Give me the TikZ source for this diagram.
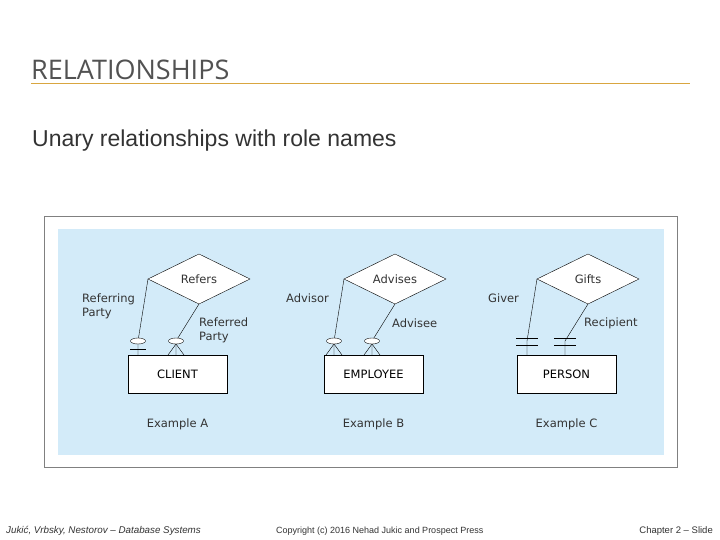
\documentclass[tikz,border=0pt]{standalone}
\usepackage{fontspec}
\usetikzlibrary{shapes.geometric}
\setmainfont{Liberation Sans}
\newfontfamily\dv{DejaVu Sans}
\newfontfamily\ttl{Open Sans}
\definecolor{pale}{HTML}{D3EBF9}
\definecolor{tan}{HTML}{D9A640}
\definecolor{ink}{HTML}{333333}
\begin{document}
\begin{tikzpicture}[x=1pt,y=-1pt,
  ent/.style={draw,fill=white,minimum width=99pt,minimum height=38pt,font=\dv\fontsize{11.5}{13}\selectfont,inner sep=0},
  lbl/.style={font=\dv\fontsize{11.5}{14}\selectfont,text=ink,align=left,anchor=west,inner sep=0},
  oval/.style={draw,fill=white,ellipse,minimum width=15pt,minimum height=6pt,inner sep=0}]
\useasboundingbox (0,0) rectangle (720,540);
\fill[white] (0,0) rectangle (720,540);
\node[anchor=west,inner sep=0,font=\ttl\fontsize{27}{28}\selectfont,text=ink!85] (title) at (31,70) {RELATIONSHIPS};
\coordinate (ul1) at (31,83); \coordinate (ul2) at (690,83);
\draw[tan,line width=0.8pt] (ul1) -- (ul2);
\node[anchor=west,inner sep=0,font=\fontsize{23}{26}\selectfont,text=ink] (sub) at (32,141) {Unary relationships with role names};
\node[draw=gray,line width=0.8pt,minimum width=633pt,minimum height=251pt,anchor=north west,inner sep=0] (frame) at (44,216) {};
\node[fill=pale,minimum width=606pt,minimum height=226pt,anchor=north west,inner sep=0] (bg) at (58,229) {};
\foreach \dx/\nm/\ent/\rl/\ex in {0/A/CLIENT/Refers/A,196/B/EMPLOYEE/Advises/B,389/C/PERSON/Gifts/C}{
  \begin{scope}[xshift=\dx]
  \node[ent] (e\nm) at (177.5,374) {\ent};
  \path[draw,fill=white] (148,279) coordinate (dl\nm) -- (199,254) -- (250,279) -- (199,304) coordinate (db\nm) -- cycle;
  \node[font=\dv\fontsize{11.5}{13}\selectfont,text=ink] (r\nm) at (199,279) {\rl};
  \node[font=\dv\fontsize{11.5}{13}\selectfont,text=ink] (x\nm) at (177.5,424) {Example \ex};
  \coordinate (p1\nm) at (138,355); \coordinate (p2\nm) at (176,355);
  \end{scope}}
\foreach \nm in {A,B,C}{
  \draw (dl\nm) -- ([yshift=14]p1\nm) -- (p1\nm);
  \draw (db\nm) -- ([yshift=14]p2\nm) -- (p2\nm);}
\draw ([xshift=-8,yshift=6]p1A) -- ([xshift=8,yshift=6]p1A);
\node[oval] (oA1) at ([yshift=14]p1A) {};
\draw ([yshift=11]p2A) -- ([xshift=-8]p2A) ([yshift=11]p2A) -- ([xshift=8]p2A);
\node[oval] (oA2) at ([yshift=14]p2A) {};
\foreach \p in {p1B,p2B}{
  \draw ([yshift=11]\p) -- ([xshift=-8]\p) ([yshift=11]\p) -- ([xshift=8]\p);
  \node[oval] at ([yshift=14]\p) {};}
\foreach \p in {p1C,p2C}{
  \draw ([xshift=-11,yshift=17]\p) -- ([xshift=11,yshift=17]\p)
        ([xshift=-11,yshift=10]\p) -- ([xshift=11,yshift=10]\p);}
\node[lbl] (l1) at (82,306) {Referring\\Party};
\node[lbl] (l2) at (199,330) {Referred\\Party};
\node[lbl] (l3) at (286,298) {Advisor};
\node[lbl] (l4) at (392,323) {Advisee};
\node[lbl] (l5) at (488,298) {Giver};
\node[lbl] (l6) at (584,323) {Recipient};
\node[anchor=west,inner sep=0,font=\itshape\fontsize{9.8}{11}\selectfont,text=ink] (f1) at (6,531) {Jukić, Vrbsky, Nestorov – Database Systems};
\node[anchor=west,inner sep=0,font=\fontsize{9}{11}\selectfont,text=ink] (f2) at (276,531) {Copyright (c) 2016 Nehad Jukic and Prospect Press};
\node[anchor=east,inner sep=0,font=\fontsize{9.5}{11}\selectfont,text=ink] (f3) at (713,531) {Chapter 2 – Slide};
\end{tikzpicture}
\end{document}
